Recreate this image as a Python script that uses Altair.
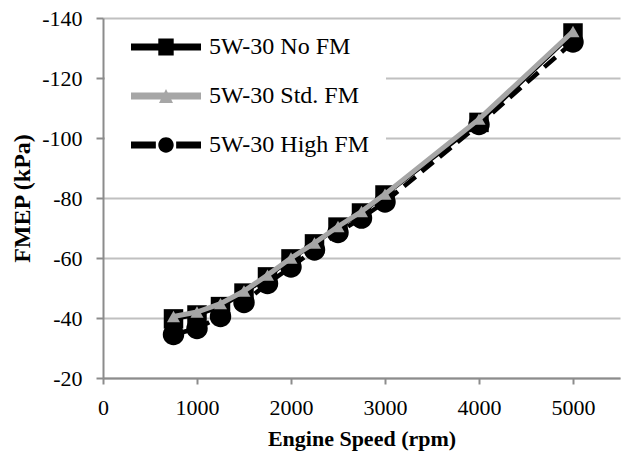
import altair as alt
import pandas as pd

speed = [750, 1000, 1250, 1500, 1750, 2000, 2250, 2500, 2750, 3000, 4000, 5000]
no_fm = [-39.7, -41.0, -43.8, -48.3, -53.7, -59.7, -64.7, -70.3, -75.0, -81.0, -105.2, -135.0]
std_fm = [-40.5, -42.0, -44.8, -49.0, -54.3, -60.0, -65.0, -70.5, -75.5, -81.3, -106.3, -135.5]
high_fm = [-34.5, -36.5, -40.5, -45.2, -51.5, -57.0, -62.7, -68.5, -73.3, -78.7, -104.5, -132.0]

series = ["5W-30 No FM", "5W-30 Std. FM", "5W-30 High FM"]
series_colors = ["#000000", "#a6a6a6", "#000000"]
x_ticks = [0, 1000, 2000, 3000, 4000, 5000]
y_ticks = [-140, -120, -100, -80, -60, -40, -20]

# legend glyphs: line + marker, in unit coordinates
circle = ("M0.22,0 C0.22,0.12 0.12,0.22 0,0.22 C-0.12,0.22 -0.22,0.12 -0.22,0 "
          "C-0.22,-0.12 -0.12,-0.22 0,-0.22 C0.12,-0.22 0.22,-0.12 0.22,0 Z")
legend_paths = [
    "M-1,-0.1 H1 V0.1 H-1 Z M-0.22,-0.24 H0.22 V0.24 H-0.22 Z",
    "M-1,-0.1 H1 V0.1 H-1 Z M0,-0.2 L0.2,0.2 H-0.2 Z",
    "M-1,-0.1 H-0.29 V0.1 H-1 Z M0.29,-0.1 H1 V0.1 H0.29 Z " + circle,
]

rows = []
for name, vals in zip(series, [no_fm, std_fm, high_fm]):
    for s, v in zip(speed, vals):
        rows.append({"series": name, "speed": s, "fmep": v})
df = pd.DataFrame(rows)

FONT = "Liberation Serif"
AXIS_GRAY = "#8c8c8c"

x_enc = alt.X(
    "speed:Q",
    scale=alt.Scale(domain=[0, 5500], nice=False, zero=False),
    axis=alt.Axis(
        values=x_ticks, grid=False, title="Engine Speed (rpm)", labelExpr="'' + datum.value",
        domainColor=AXIS_GRAY, domainWidth=2, tickColor=AXIS_GRAY, tickWidth=2, tickSize=6,
        labelFont=FONT, labelFontSize=22, labelColor="#000000", labelPadding=13, labelFlush=False,
        titleFont=FONT, titleFontSize=22, titleFontWeight="bold", titleColor="#000000", titlePadding=10,
    ),
)
y_enc = alt.Y(
    "fmep:Q",
    scale=alt.Scale(domain=[-140, -20], reverse=True, nice=False, zero=False),
    axis=alt.Axis(
        values=y_ticks, grid=True, gridColor="#c0c0c0", gridWidth=2, title="FMEP (kPa)",
        labelExpr="'' + datum.value",
        domainColor=AXIS_GRAY, domainWidth=2, tickColor=AXIS_GRAY, tickWidth=2, tickSize=7,
        labelFont=FONT, labelFontSize=22, labelColor="#000000", labelPadding=14,
        titleFont=FONT, titleFontSize=24, titleFontWeight="bold", titleColor="#000000", titlePadding=7,
    ),
)

base = alt.Chart(df).encode(x=x_enc, y=y_enc)


def line(name, color, width, dash=None):
    kw = dict(color=color, strokeWidth=width)
    if dash:
        kw["strokeDash"] = dash
    return base.transform_filter(alt.datum.series == name).mark_line(**kw)


def pts(name, shape, color, size):
    return base.transform_filter(alt.datum.series == name).mark_point(
        shape=shape, filled=True, color=color, size=size, opacity=1, strokeWidth=0
    )


legend = alt.Legend(
    orient="none", legendX=2, legendY=2, title=" ", titleOrient="left", titleFontSize=4,
    titlePadding=10, padding=16, fillColor="white", clipHeight=22,
    labelFont=FONT, labelFontSize=24, labelColor="#000000", labelOffset=8, labelLimit=400,
    rowPadding=25, symbolSize=4900, symbolStrokeWidth=0, symbolOpacity=1,
    labelExpr="datum.label + '\u00a0\u00a0'",
)

legend_layer = alt.Chart(df).transform_filter("false").mark_point(filled=True, opacity=1).encode(
    color=alt.Color("series:N", scale=alt.Scale(domain=series, range=series_colors), legend=legend),
    shape=alt.Shape("series:N", scale=alt.Scale(domain=series, range=legend_paths), legend=legend),
)

chart = alt.layer(
    line(series[0], "#000000", 4),
    pts(series[0], "square", "#000000", 380),
    line(series[2], "#000000", 4.5, [15, 8]),
    pts(series[2], "circle", "#000000", 460),
    line(series[1], "#a6a6a6", 5),
    pts(series[1], "triangle-up", "#a6a6a6", 170),
    legend_layer,
).properties(
    width=517, height=360,
    autosize=alt.AutoSizeParams(type="none"),
    padding={"left": 103, "top": 18, "right": 1, "bottom": 76},
    background="white",
).configure_view(stroke=None)

chart.save("out.html", embed_options={"renderer": "svg", "actions": False})
